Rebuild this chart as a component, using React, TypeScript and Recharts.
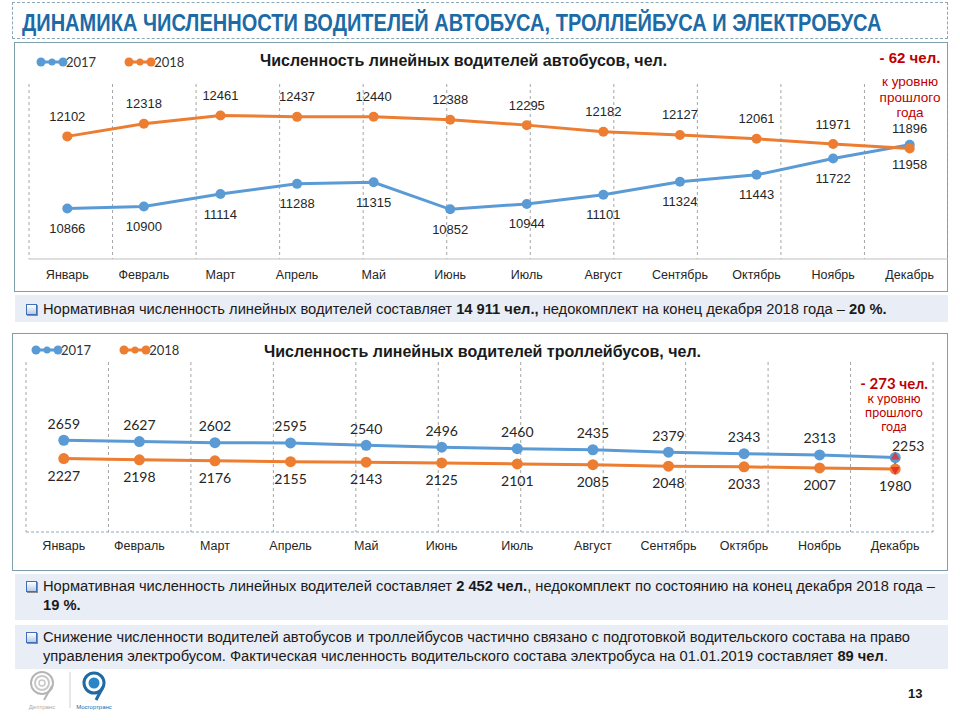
import React from "react";
import { LineChart, Line, XAxis, YAxis, CartesianGrid, LabelList, ErrorBar } from "recharts";

const months = [
  "Январь", "Февраль", "Март", "Апрель", "Май", "Июнь",
  "Июль", "Август", "Сентябрь", "Октябрь", "Ноябрь", "Декабрь",
];
const bus2017 = [10866, 10900, 11114, 11288, 11315, 10852, 10944, 11101, 11324, 11443, 11722, 11958];
const bus2018 = [12102, 12318, 12461, 12437, 12440, 12388, 12295, 12182, 12127, 12061, 11971, 11896];
const trolley2017 = [2659, 2627, 2602, 2595, 2540, 2496, 2460, 2435, 2379, 2343, 2313, 2253];
const trolley2018 = [2227, 2198, 2176, 2155, 2143, 2125, 2101, 2085, 2048, 2033, 2007, 1980];
const busDomain = [10000, 13000];
const trolleyDomain = [500, 4500];
const bandEdges = [0, 1, 2, 3, 4, 5, 6, 7, 8, 9, 10, 11];
const seriesNames = ["2017", "2018"];

const BLUE = "#5b9bd5";
const ORANGE = "#ed7d31";
const RED = "#c00000";
const ARROW = "#e8262b";
const TEXT = "#262626";
const FRAME = "#7fa0aa";
const NOTE_BG = "#e9edf5";
const ARIAL = "'Liberation Sans', Arial, sans-serif";
const CALIBRI = "Lato, 'Open Sans', sans-serif";

const LAST = months.length - 1;

const busData = months.map((m, i) => ({ month: m, y2017: bus2017[i], y2018: bus2018[i] }));
// the December gap (2017 vs 2018) is drawn as a red error bar from the 2018 point
const trolleyData = months.map((m, i) => ({
  month: m,
  y2017: trolley2017[i],
  y2018: trolley2018[i],
  gap: i === LAST ? [0, trolley2017[i] - trolley2018[i]] : null,
}));

function pointLabel(dy: number, font: string, size: number, lastDx = 0, lastDy = 0) {
  return (props: any) => {
    const { x, y, value, index } = props;
    const isLast = index === LAST;
    return (
      <text
        x={x + (isLast ? lastDx : 0)} y={y + dy + (isLast ? lastDy : 0)}
        textAnchor="middle" fontFamily={font} fontSize={size} fill={TEXT}
      >
        {value}
      </text>
    );
  };
}

// dot with an arrow head on the last (December) point
function arrowDot(color: string, r: number, up: boolean | null) {
  return (props: any) => {
    const { cx, cy, index } = props;
    if (cx == null || cy == null) return <g key={index} />;
    const head = up === null || index !== LAST ? null : up ? (
      <polygon points={`${cx - 4.5},${cy + 2} ${cx + 4.5},${cy + 2} ${cx},${cy - 6}`} fill={ARROW} fillOpacity={0.75} />
    ) : (
      <polygon points={`${cx - 4.5},${cy - 2} ${cx + 4.5},${cy - 2} ${cx},${cy + 6}`} fill={ARROW} fillOpacity={0.85} />
    );
    return (
      <g key={index}>
        <circle cx={cx} cy={cy} r={r} fill={color} />
        {head}
      </g>
    );
  };
}

function SeriesLegend({ left, top }: { left: number; top: number }) {
  const colors = [BLUE, ORANGE];
  return (
    <div style={{ position: "absolute", left, top, display: "flex", alignItems: "center", gap: 28, fontFamily: CALIBRI, fontSize: 13 }}>
      {seriesNames.map((name, i) => (
        <div key={name} style={{ display: "flex", alignItems: "center" }}>
          <svg width={32} height={12}>
            <line x1={5} y1={6} x2={27} y2={6} stroke={colors[i]} strokeWidth={3} />
            <circle cx={5} cy={6} r={4.5} fill={colors[i]} />
            <circle cx={16} cy={6} r={3.5} fill={colors[i]} />
            <circle cx={27} cy={6} r={4.5} fill={colors[i]} />
          </svg>
          <span style={{ color: "#333", marginLeft: -2 }}>{name}</span>
        </div>
      ))}
    </div>
  );
}

function CheckBox() {
  return (
    <span
      style={{
        display: "inline-block", width: 9, height: 9, marginRight: 6, verticalAlign: "-1px",
        border: "1px solid #3f6fb6", background: "linear-gradient(#ffffff, #b9cbe6)",
        boxShadow: "1px 1px 0 #8c8c8c",
      }}
    />
  );
}

function Note({ top, height, padTop, lines }: { top: number; height: number; padTop: number; lines: React.ReactNode[] }) {
  return (
    <div
      style={{
        position: "absolute", left: 15, top, width: 933, height, background: NOTE_BG,
        fontFamily: ARIAL, fontSize: 14.7, color: "#1a1a1a", boxSizing: "border-box",
        padding: `${padTop}px 0 0 11px`, lineHeight: "19px",
      }}
    >
      {lines.map((l, i) => (
        <div key={i} style={{ whiteSpace: "nowrap", marginLeft: i === 0 ? 0 : 17 }}>{l}</div>
      ))}
    </div>
  );
}

function Annotation({ left, top, head, font, headSize, headLine, gap, size, lineH }: any) {
  return (
    <div style={{ position: "absolute", left, top, width: 90, textAlign: "center", color: RED, fontFamily: font, lineHeight: `${lineH}px` }}>
      <div style={{ fontWeight: 700, fontSize: headSize, lineHeight: `${headLine}px`, marginBottom: gap }}>{head}</div>
      <div style={{ fontSize: size }}>к уровню</div>
      <div style={{ fontSize: size }}>прошлого</div>
      <div style={{ fontSize: size }}>года</div>
    </div>
  );
}

function Logos() {
  return (
    <div style={{ position: "absolute", left: 26, top: 670 }}>
      <svg width={110} height={48}>
        <circle cx={16} cy={13} r={11} fill="none" stroke="#b5b5b5" strokeWidth={2} />
        <circle cx={16} cy={13} r={7} fill="none" stroke="#c8c8c8" strokeWidth={2} />
        <circle cx={16} cy={13} r={3} fill="none" stroke="#c8c8c8" strokeWidth={1.5} />
        <path d="M26 16 L18 30" stroke="#b5b5b5" strokeWidth={2} fill="none" />
        <text x={16} y={39} textAnchor="middle" fontSize={6} fill="#aaa" fontFamily={ARIAL}>Дептранс</text>
        <line x1={44} y1={2} x2={44} y2={38} stroke="#d0d0d0" strokeWidth={1} />
        <circle cx={68} cy={13} r={10} fill="none" stroke="#1f6aa5" strokeWidth={3} />
        <circle cx={68} cy={13} r={5.5} fill="#2b86c5" />
        <path d="M77 17 L70 30" stroke="#1f6aa5" strokeWidth={3} fill="none" />
        <text x={68} y={39} textAnchor="middle" fontSize={6} fill="#1f6aa5" fontFamily={ARIAL}>Мосгортранс</text>
      </svg>
    </div>
  );
}

export default function App() {
  return (
    <div style={{ position: "absolute", left: 0, top: 0, width: 960, height: 720, background: "#fff", overflow: "hidden" }}>
      {/* heading */}
      <div style={{ position: "absolute", left: 12, top: 2, width: 936, height: 37, border: "1px dashed #8aa8b8", boxSizing: "border-box" }} />
      <svg style={{ position: "absolute", left: 0, top: 0 }} width={960} height={42}>
        <text
          x={22} y={31} fontFamily={ARIAL} fontWeight={700} fontSize={24} fill="#1c6ba6"
          transform="translate(22 0) scale(0.835 1) translate(-22 0)"
        >
          ДИНАМИКА ЧИСЛЕННОСТИ ВОДИТЕЛЕЙ АВТОБУСА, ТРОЛЛЕЙБУСА И ЭЛЕКТРОБУСА
        </text>
      </svg>

      {/* bus chart */}
      <div style={{ position: "absolute", left: 14, top: 42, width: 934, height: 250, border: `1px solid ${FRAME}`, boxSizing: "border-box" }} />
      <div style={{ position: "absolute", left: 14, top: 42 }}>
        <LineChart width={934} height={248} data={busData} margin={{ top: 42, right: 0, bottom: 0, left: 15 }}>
          <XAxis xAxisId="edges" type="number" domain={[0, 12]} ticks={bandEdges} allowDataOverflow hide />
          <CartesianGrid xAxisId="edges" horizontal={false} stroke="#a6a6a6" strokeDasharray="3 3" />
          <XAxis
            dataKey="month" scale="band" interval={0} tickLine={false} height={31} tickMargin={5}
            axisLine={{ stroke: "#bfbfbf" }}
            tick={{ fontSize: 12.5, fill: TEXT, fontFamily: ARIAL }}
          />
          <YAxis type="number" domain={busDomain} allowDataOverflow hide />
          <Line dataKey="y2017" name="2017" stroke={BLUE} strokeWidth={3} dot={{ r: 5, fill: BLUE, stroke: "none" }} isAnimationActive={false}>
            <LabelList dataKey="y2017" content={pointLabel(24.5, ARIAL, 13)} />
          </Line>
          <Line dataKey="y2018" name="2018" stroke={ORANGE} strokeWidth={3} dot={{ r: 5, fill: ORANGE, stroke: "none" }} isAnimationActive={false}>
            <LabelList dataKey="y2018" content={pointLabel(-15.5, ARIAL, 13)} />
          </Line>
        </LineChart>
      </div>
      <SeriesLegend left={36} top={54} />
      <div style={{ position: "absolute", left: 260, top: 52, fontFamily: ARIAL, fontWeight: 700, fontSize: 16, color: "#1a1a1a" }}>
        Численность линейных водителей автобусов, чел.
      </div>
      <Annotation left={865} top={49} head="- 62 чел." font={ARIAL} headSize={15} headLine={18} gap={7} size={13.5} lineH={15.5} />

      <Note
        top={295} height={27} padTop={5}
        lines={[
          <>
            <CheckBox />Нормативная численность линейных водителей составляет <b>14 911 чел.,</b> недокомплект на конец декабря 2018 года – <b>20 %.</b>
          </>,
        ]}
      />

      {/* trolleybus chart */}
      <div style={{ position: "absolute", left: 12, top: 333, width: 936, height: 238, border: `1px solid ${FRAME}`, boxSizing: "border-box" }} />
      <div style={{ position: "absolute", left: 12, top: 333 }}>
        <LineChart width={936} height={238} data={trolleyData} margin={{ top: 29, right: 15, bottom: 0, left: 14 }}>
          <XAxis xAxisId="edges" type="number" domain={[0, 12]} ticks={bandEdges} allowDataOverflow hide />
          <CartesianGrid xAxisId="edges" horizontal={false} stroke="#a6a6a6" strokeDasharray="3 3" />
          <XAxis
            dataKey="month" scale="band" interval={0} tickLine={false} height={39} tickMargin={3}
            axisLine={{ stroke: "#8faabb", strokeDasharray: "3 2" }}
            tick={{ fontSize: 12.5, fill: TEXT, fontFamily: ARIAL }}
          />
          <YAxis type="number" domain={trolleyDomain} allowDataOverflow hide />
          <Line dataKey="y2017" name="2017" stroke={BLUE} strokeWidth={3} dot={arrowDot(BLUE, 5.5, true)} isAnimationActive={false}>
            <LabelList dataKey="y2017" content={pointLabel(-11.5, CALIBRI, 14, 13, 5)} />
          </Line>
          <Line dataKey="y2018" name="2018" stroke={ORANGE} strokeWidth={3} dot={arrowDot(ORANGE, 5.5, false)} isAnimationActive={false}>
            <ErrorBar dataKey="gap" direction="y" width={0} stroke={ARROW} strokeWidth={2} />
            <LabelList dataKey="y2018" content={pointLabel(22, CALIBRI, 14)} />
          </Line>
        </LineChart>
      </div>
      <SeriesLegend left={31} top={342} />
      <div style={{ position: "absolute", left: 264, top: 343, fontFamily: ARIAL, fontWeight: 700, fontSize: 16, color: "#1a1a1a" }}>
        Численность линейных водителей троллейбусов, чел.
      </div>
      <Annotation left={849} top={374} head="- 273 чел." font={CALIBRI} headSize={15} headLine={18} gap={0} size={12.5} lineH={14} />

      <Note
        top={574} height={46} padTop={3}
        lines={[
          <>
            <CheckBox />Нормативная численность линейных водителей составляет <b>2 452 чел.</b>, недокомплект по состоянию на конец декабря 2018 года –
          </>,
          <b>19 %.</b>,
        ]}
      />
      <Note
        top={625} height={44} padTop={3}
        lines={[
          <>
            <CheckBox />Снижение численности водителей автобусов и троллейбусов частично связано с подготовкой водительского состава на право
          </>,
          <>
            управления электробусом. Фактическая численность водительского состава электробуса на 01.01.2019 составляет <b>89 чел</b>.
          </>,
        ]}
      />

      <Logos />
      <div style={{ position: "absolute", left: 908, top: 686, fontFamily: ARIAL, fontWeight: 700, fontSize: 13, color: "#1a1a1a" }}>13</div>
    </div>
  );
}
